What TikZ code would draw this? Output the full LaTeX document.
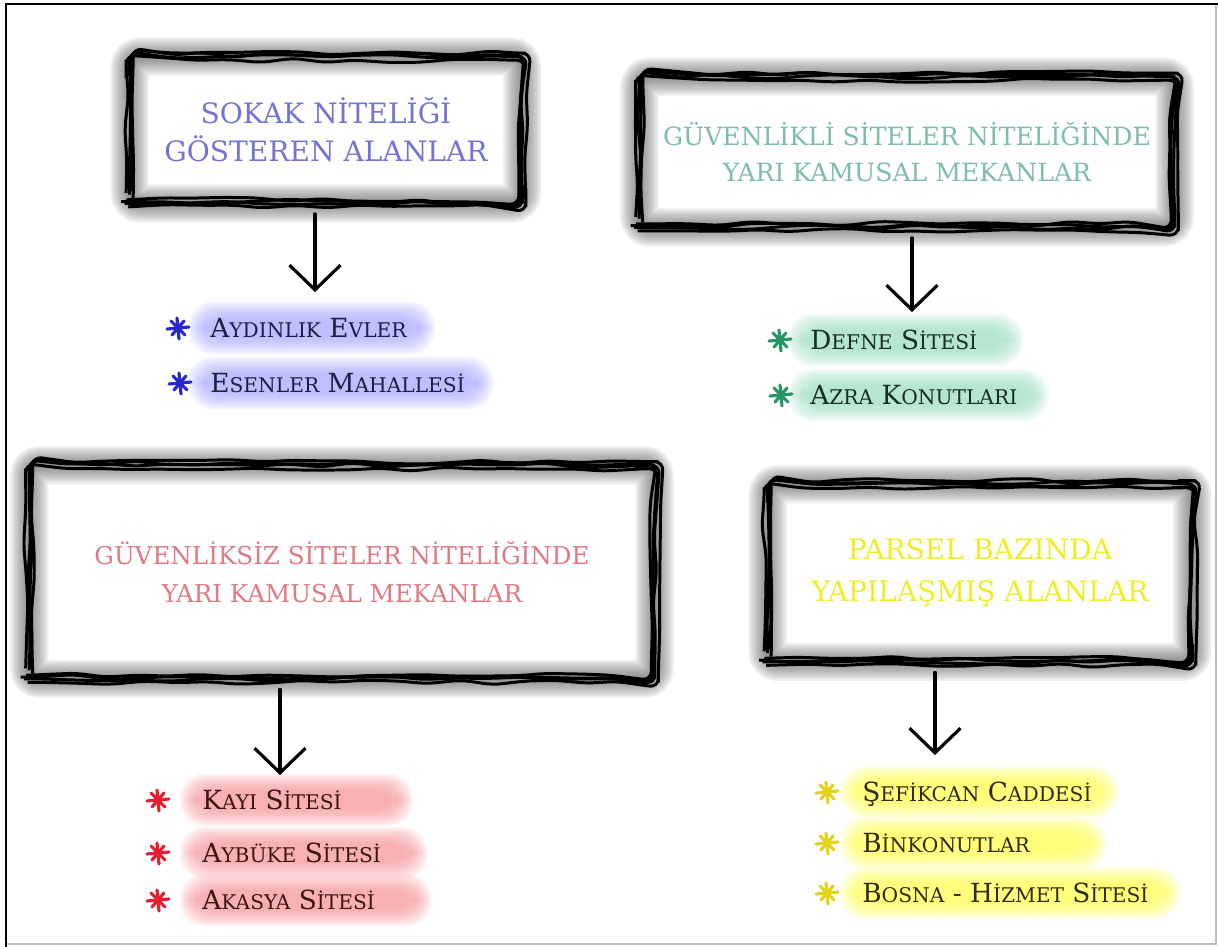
\documentclass[tikz,border=0pt]{standalone}
\usepackage{fontspec}
\setmainfont{DejaVu Serif}
\usetikzlibrary{arrows.meta,decorations.pathmorphing}
\pgfdeclarelayer{background}
\pgfsetlayers{background,main}
\definecolor{hblue}{RGB}{115,115,215}
\definecolor{hgreen}{RGB}{125,190,165}
\definecolor{hred}{RGB}{225,120,130}
\definecolor{hyellow}{RGB}{238,238,40}
\definecolor{tblue}{RGB}{30,30,70}
\definecolor{tgreen}{RGB}{25,45,35}
\definecolor{tred}{RGB}{60,20,20}
\definecolor{tyellow}{RGB}{45,45,15}
\definecolor{gblue}{RGB}{165,165,255}
\definecolor{ggreen}{RGB}{150,220,190}
\definecolor{gred}{RGB}{245,145,150}
\definecolor{gyellow}{RGB}{255,255,70}
\definecolor{sblue}{RGB}{40,40,210}
\definecolor{sgreen}{RGB}{40,150,100}
\definecolor{sred}{RGB}{230,30,50}
\definecolor{syellow}{RGB}{225,210,30}
\newcommand\sm[1]{{\fontsize{11.5}{12}\selectfont #1}}
\newcommand\roughbox[1]{%
  \begin{pgfonlayer}{background}
  \foreach \g in {2,4,...,22}
    \draw[black!70, opacity=.08, line width=\g pt, rounded corners=6pt] (#1.south west) rectangle (#1.north east);
  \end{pgfonlayer}
  \foreach \dx/\dy in {0/0,2/-2,-2/1,1/2}
    \draw[sketch] ([shift={(\dx pt,\dy pt)}]#1.south west) rectangle ([shift={(-\dy pt,\dx pt)}]#1.north east);
}
\newcommand\hilite[3]{%
  \begin{pgfonlayer}{background}
  \foreach \g in {0,2,...,16}
    \fill[#2, opacity=.13, rounded corners=14pt] ([shift={(-6-\g,10+\g)}]#1.west) rectangle ([shift={(#3+\g,-10-\g)}]#1.east);
  \end{pgfonlayer}
}
\newcommand\starmark[3]{%
  \draw[#2, line width=1.8pt, line cap=round]
    (#1.west) ++(-#3,0) ++(-11,1) -- ++(22,-2)
    (#1.west) ++(-#3,0) ++(-1,-10) -- ++(2,21)
    (#1.west) ++(-#3,0) ++(-7,-7) -- ++(14,14)
    (#1.west) ++(-#3,0) ++(-6,7) -- ++(12,-14);
}
\begin{document}
\begin{tikzpicture}[x=0.02cm,y=-0.02cm,
  hdr/.style={align=center,font=\fontsize{15}{21.5}\selectfont,inner sep=0pt},
  item/.style={anchor=west,inner sep=0pt,text height=11pt,text depth=0pt,font=\fontsize{15}{16}\selectfont},
  sketch/.style={line width=1.7pt,black,decorate,decoration={random steps,segment length=18pt,amplitude=1.4pt},rounded corners=5pt},
  downarrow/.style={line width=1.8pt,line cap=round,shorten <=6pt,-{Straight Barb[length=14pt,width=29pt]}}]
\pgfmathsetseed{11}
\useasboundingbox (0,0) rectangle (1218,947);
\draw[black!25,line width=0.8pt] (1216,4) -- (1216,944) -- (6,944);
\draw[line width=1.5pt] (6,947) -- (6,4) -- (1218,4);
\node[hdr,text=hblue,minimum width=7.84cm,minimum height=2.92cm,font=\fontsize{16}{21.5}\selectfont] (sokak) at (326,130) {SOKAK NİTELİĞİ\\GÖSTEREN ALANLAR};
\node[hdr,text=hgreen,minimum width=10.7cm,minimum height=3cm,font=\fontsize{14.3}{20}\selectfont] (guvenli) at (907,152) {GÜVENLİKLİ SİTELER NİTELİĞİNDE\\YARI KAMUSAL MEKANLAR};
\node[hdr,text=hred,minimum width=12.5cm,minimum height=4.26cm,font=\fontsize{14}{21.5}\selectfont] (guvensiz) at (342,572) {GÜVENLİKSİZ SİTELER NİTELİĞİNDE\\YARI KAMUSAL MEKANLAR};
\node[hdr,text=hyellow,minimum width=8.48cm,minimum height=3.54cm,font=\fontsize{16}{24}\selectfont] (parsel) at (980,573) {PARSEL BAZINDA\\YAPILAŞMIŞ ALANLAR};
\roughbox{sokak}
\roughbox{guvenli}
\roughbox{guvensiz}
\roughbox{parsel}
\node[item,text=tblue] (aydinlik) at (210,328) {A\sm{YDINLIK} E\sm{VLER}};
\node[item,text=tblue] (esenler) at (210,383) {E\sm{SENLER} M\sm{AHALLESİ}};
\node[item,text=tgreen] (defne) at (810,340) {D\sm{EFNE} S\sm{İTESİ}};
\node[item,text=tgreen] (azra) at (810,395) {A\sm{ZRA} K\sm{ONUTLARI}};
\node[item,text=tred] (kayi) at (202,800) {K\sm{AYI} S\sm{İTESİ}};
\node[item,text=tred] (aybuke) at (202,853) {A\sm{YBÜKE} S\sm{İTESİ}};
\node[item,text=tred] (akasya) at (202,900) {A\sm{KASYA} S\sm{İTESİ}};
\node[item,text=tyellow] (sefikcan) at (862,792) {Ş\sm{EFİKCAN} C\sm{ADDESİ}};
\node[item,text=tyellow] (binkonut) at (862,843) {B\sm{İNKONUTLAR}};
\node[item,text=tyellow] (bosna) at (862,893) {B\sm{OSNA} - H\sm{İZMET} S\sm{İTESİ}};
\hilite{aydinlik}{gblue}{12}
\hilite{esenler}{gblue}{12}
\hilite{defne}{ggreen}{30}
\hilite{azra}{ggreen}{15}
\hilite{kayi}{gred}{55}
\hilite{aybuke}{gred}{30}
\hilite{akasya}{gred}{40}
\hilite{sefikcan}{gyellow}{10}
\hilite{binkonut}{gyellow}{60}
\hilite{bosna}{gyellow}{15}
\starmark{aydinlik}{sblue}{32}
\starmark{esenler}{sblue}{30}
\starmark{defne}{sgreen}{30}
\starmark{azra}{sgreen}{29}
\starmark{kayi}{sred}{44}
\starmark{aybuke}{sred}{44}
\starmark{akasya}{sred}{44}
\starmark{sefikcan}{syellow}{35}
\starmark{binkonut}{syellow}{35}
\starmark{bosna}{syellow}{35}
\coordinate (tip1) at (315,292);
\coordinate (tip2) at (912,312);
\coordinate (tip3) at (280,775);
\coordinate (tip4) at (935,755);
\draw[downarrow] (sokak.south -| tip1) -- (tip1);
\draw[downarrow] (guvenli.south -| tip2) -- (tip2);
\draw[downarrow] (guvensiz.south -| tip3) -- (tip3);
\draw[downarrow] (parsel.south -| tip4) -- (tip4);
\end{tikzpicture}
\end{document}
